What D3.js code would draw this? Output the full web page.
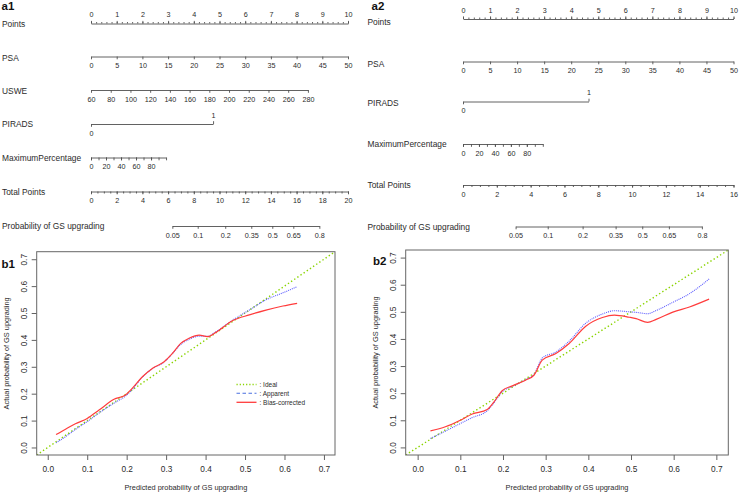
<!DOCTYPE html>
<html><head><meta charset="utf-8">
<script src="https://cdn.jsdelivr.net/npm/d3@7"></script>
<style>body{margin:0;background:#fff}svg{display:block}</style>
</head><body><svg id="c" width="739" height="495"></svg>
<script>
// ---------------- DATA ----------------
// Nomogram row names
const rowNames = ["Points","PSA","USWE","PIRADS","MaximumPercentage","Total Points","Probability of GS upgrading"];
const rowNamesA2 = ["Points","PSA","PIRADS","MaximumPercentage","Total Points","Probability of GS upgrading"];
// tick labels
const pointsLabels = [0,1,2,3,4,5,6,7,8,9,10];
const psaLabels = [0,5,10,15,20,25,30,35,40,45,50];
const usweLabels = [60,80,100,120,140,160,180,200,220,240,260,280];
const piradsLabels = [0,1];
const maxPctLabels = [0,20,40,60,80];
const maxPctTicks = [0,10,20,30,40,50,60,70,80,90,100];
const totalLabelsA1 = [0,2,4,6,8,10,12,14,16,18,20];
const totalLabelsA2 = [0,2,4,6,8,10,12,14,16];
const probLabels = [0.05,0.1,0.2,0.35,0.5,0.65,0.8];
// points reached at the top of each predictor's range
const a1VarPoints = [10, 8.44, 4.75, 2.92];   // PSA, USWE, PIRADS, MaximumPercentage
const a2VarPoints = [10, 4.64, 2.95];         // PSA, PIRADS, MaximumPercentage
// total points that correspond to probability 0.05 and 0.8
const a1ProbPts = [6.33, 17.77];
const a2ProbPts = [3.11, 14.13];

// Calibration curves
const b1Pred = [0.021,0.045,0.07,0.1,0.13,0.168,0.197,0.214,0.24,0.265,0.295,0.316,0.337,0.358,0.384,0.405,0.426,0.469,0.511,0.553,0.596,0.632];
const b1Apparent = [0.017,0.04,0.067,0.096,0.128,0.165,0.191,0.215,0.262,0.293,0.318,0.349,0.383,0.402,0.414,0.413,0.43,0.474,0.511,0.549,0.575,0.598];
const b1Bias = [0.048,0.068,0.088,0.108,0.139,0.179,0.195,0.22,0.263,0.294,0.319,0.35,0.387,0.406,0.418,0.412,0.428,0.472,0.493,0.511,0.526,0.536];
const b2Pred = [0.03,0.065,0.1,0.128,0.163,0.179,0.198,0.222,0.253,0.273,0.292,0.324,0.355,0.394,0.433,0.461,0.496,0.512,0.539,0.559,0.598,0.637,0.683];
const b2Apparent = [0.033,0.06,0.088,0.11,0.135,0.165,0.205,0.225,0.25,0.27,0.33,0.352,0.392,0.458,0.492,0.504,0.5,0.498,0.493,0.505,0.535,0.567,0.621];
const b2Bias = [0.061,0.076,0.1,0.123,0.14,0.168,0.209,0.227,0.248,0.267,0.322,0.346,0.383,0.447,0.479,0.488,0.48,0.475,0.461,0.472,0.499,0.518,0.547];
const calTicks = [0,0.1,0.2,0.3,0.4,0.5,0.6,0.7];
const legendLabels = [": Ideal", ": Apparent", ": Bias-corrected"];

// ---------------- DRAWING ----------------
const FONT = '"Liberation Sans", Arial, Helvetica, sans-serif';
const INK = '#2b2b2b', AX = '#505050';
const svg = d3.select('#c');
const logit = p => Math.log(p/(1-p));

function styleAxis(g, fs){
  g.attr('font-family', FONT).attr('font-size', fs);
  g.selectAll('.domain, .tick line').attr('stroke', AX).attr('stroke-width', 0.9);
  g.selectAll('text').attr('fill', INK);
}
function row(y, scale, values, opt){
  const o = Object.assign({up:false, minor:null, fmt:d=>d, size:2.8, minorSize:1.5, pad:4, domain:true}, opt||{});
  const mk = o.up ? d3.axisTop : d3.axisBottom;
  if (o.minor){
    const gm = svg.append('g').attr('transform',`translate(0,${y})`)
      .call(mk(scale).tickValues(o.minor).tickSize(o.minorSize).tickSizeOuter(0).tickFormat(''));
    styleAxis(gm, 7.2); gm.select('.domain').remove();
  }
  const ga = svg.append('g').attr('transform',`translate(0,${y})`)
    .call(mk(scale).tickValues(values).tickSize(o.size).tickSizeOuter(0).tickPadding(o.pad).tickFormat(o.fmt));
  styleAxis(ga, 7.2);
  if(!o.domain) ga.select('.domain').remove();
}
function label(x, y, t, fs){
  svg.append('text').attr('x',x).attr('y',y).attr('font-family',FONT).attr('font-size',fs||8.4)
    .attr('fill',INK).text(t);
}
function panelTag(x,y,t){
  svg.append('text').attr('x',x).attr('y',y).attr('font-family',FONT).attr('font-size',11.5)
    .attr('font-weight','bold').attr('fill','#111').text(t);
}

// ----- a1 nomogram -----
(function(){
  const pts = d3.scaleLinear().domain([0,10]).range([91,348]);
  const psa = d3.scaleLinear().domain([0,50]).range([pts(0), pts(a1VarPoints[0])]);
  const usw = d3.scaleLinear().domain([60,280]).range([pts(0), pts(a1VarPoints[1])]);
  const pir = d3.scaleLinear().domain([0,1]).range([pts(0), pts(a1VarPoints[2])]);
  const mx  = d3.scaleLinear().domain([0,100]).range([pts(0), pts(a1VarPoints[3])]);
  const tot = d3.scaleLinear().domain([0,20]).range([91,348]);
  const prb = d3.scaleLinear().domain([logit(probLabels[0]), logit(probLabels[probLabels.length-1])])
    .range([tot(a1ProbPts[0]), tot(a1ProbPts[1])]);
  const ys = [23.5, 56.5, 90, 124, 157.5, 191.5, 226];
  const ly = [26.5, 61, 94, 127.3, 160.5, 194.5, 228.8];
  rowNames.forEach((n,i)=>label(2, ly[i], n));
  row(ys[0], pts, pointsLabels, {up:true, minor:d3.range(0,10.001,0.2), pad:3.5, size:2.6});
  row(ys[1], psa, psaLabels);
  row(ys[2], usw, usweLabels);
  row(ys[3], pir, [piradsLabels[0]]);
  row(ys[3], pir, [piradsLabels[1]], {up:true, domain:false, pad:3.5});
  row(ys[4], mx, maxPctTicks.filter(v=>maxPctLabels.includes(v)), {minor:maxPctTicks, minorSize:2.8});
  row(ys[5], tot, totalLabelsA1, {minor:d3.range(0,20.001,0.5), minorSize:2});
  row(ys[6], prb, probLabels.map(logit), {fmt:(d,i)=>probLabels[i]});
  panelTag(1.5, 9.5, 'a1');
})();

// ----- a2 nomogram -----
(function(){
  const pts = d3.scaleLinear().domain([0,10]).range([463,733.5]);
  const psa = d3.scaleLinear().domain([0,50]).range([pts(0), pts(a2VarPoints[0])]);
  const pir = d3.scaleLinear().domain([0,1]).range([pts(0), pts(a2VarPoints[1])]);
  const mx  = d3.scaleLinear().domain([0,100]).range([pts(0), pts(a2VarPoints[2])]);
  const tot = d3.scaleLinear().domain([0,16]).range([463,733.5]);
  const prb = d3.scaleLinear().domain([logit(probLabels[0]), logit(probLabels[probLabels.length-1])])
    .range([tot(a2ProbPts[0]), tot(a2ProbPts[1])]);
  const ys = [19, 61.5, 101.5, 144, 185, 226.5];
  const ly = [25, 66.7, 106, 146.7, 188.3, 230];
  rowNamesA2.forEach((n,i)=>label(367.5, ly[i], n));
  row(ys[0], pts, pointsLabels, {up:true, minor:d3.range(0,10.001,0.2), pad:3.5, size:2.6});
  row(ys[1], psa, psaLabels);
  row(ys[2], pir, [piradsLabels[0]]);
  row(ys[2], pir, [piradsLabels[1]], {up:true, domain:false, pad:3.5});
  row(ys[3], mx, maxPctTicks.filter(v=>maxPctLabels.includes(v)), {minor:maxPctTicks, minorSize:2.8});
  row(ys[4], tot, totalLabelsA2, {minor:d3.range(0,16.001,0.5), minorSize:2});
  row(ys[5], prb, probLabels.map(logit), {fmt:(d,i)=>probLabels[i]});
  panelTag(371.5, 9.8, 'a2');
})();

// ----- calibration plots -----
function calib(box, pred, app, bias, yTitleX, tag, tagXY, withLegend){
  const x = d3.scaleLinear().domain([-0.028,0.728]).range([box.l, box.r]);
  const y = d3.scaleLinear().domain([-0.028,0.728]).range([box.b, box.t]);
  const id = 'clip'+tag;
  svg.append('clipPath').attr('id',id).append('rect')
    .attr('x',box.l).attr('y',box.t).attr('width',box.r-box.l).attr('height',box.b-box.t);
  const gx = svg.append('g').attr('transform',`translate(0,${box.b})`)
    .call(d3.axisBottom(x).tickValues(calTicks).tickFormat(d3.format('.1f')).tickSize(5).tickPadding(6).tickSizeOuter(0));
  styleAxis(gx, 8.3); gx.select('.domain').remove();
  const gy = svg.append('g').attr('transform',`translate(${box.l},0)`)
    .call(d3.axisLeft(y).tickValues(calTicks).tickFormat(d3.format('.1f')).tickSize(5).tickSizeOuter(0));
  styleAxis(gy, 8.3); gy.select('.domain').remove();
  gy.selectAll('text').attr('x',null).attr('dy',null).attr('text-anchor','middle')
    .attr('transform','translate(-10,0) rotate(-90)');
  const plot = svg.append('g').attr('clip-path',`url(#${id})`);
  // ideal
  plot.append('line').attr('x1',x(x.domain()[0])).attr('y1',y(y.domain()[0]))
    .attr('x2',x(x.domain()[1])).attr('y2',y(y.domain()[1]))
    .attr('stroke','#8ad400').attr('stroke-width',1.4).attr('stroke-dasharray','1.4,2.4');
  const line = d3.line().x(d=>x(d[0])).y(d=>y(d[1])).curve(d3.curveMonotoneX);
  plot.append('path').attr('d', line(pred.map((p,i)=>[p,app[i]])))
    .attr('fill','none').attr('stroke','#5b5bff').attr('stroke-width',1.1).attr('stroke-dasharray','1,1');
  plot.append('path').attr('d', line(pred.map((p,i)=>[p,bias[i]])))
    .attr('fill','none').attr('stroke','#ff3c3c').attr('stroke-width',1.2);
  svg.append('rect').attr('x',box.l).attr('y',box.t).attr('width',box.r-box.l).attr('height',box.b-box.t)
    .attr('fill','none').attr('stroke','#666').attr('stroke-width',1);
  svg.append('text').attr('x',(box.l+box.r)/2).attr('y',490).attr('text-anchor','middle')
    .attr('font-family',FONT).attr('font-size',7.4).attr('fill',INK).text('Predicted probability of GS upgrading');
  svg.append('text').attr('transform',`translate(${yTitleX},${(box.t+box.b)/2}) rotate(-90)`).attr('text-anchor','middle')
    .attr('font-family',FONT).attr('font-size',7.4).attr('fill',INK).text('Actual probability of GS upgrading');
  panelTag(tagXY[0], tagXY[1], tag);
  if(withLegend){
    const lx = 236.5, ly = [384.5, 393.3, 402.3];
    const styles = [['#8ad400','1.2,2',1.3],['#4a6fe0','3.5,2.5',1.1],['#ff3c3c',null,1.3]];
    legendLabels.forEach((t,i)=>{
      const l = svg.append('line').attr('x1',lx).attr('x2',lx+20).attr('y1',ly[i]).attr('y2',ly[i])
        .attr('stroke',styles[i][0]).attr('stroke-width',styles[i][2]);
      if(styles[i][1]) l.attr('stroke-dasharray',styles[i][1]);
      svg.append('text').attr('x',lx+23).attr('y',ly[i]+2.4).attr('font-family',FONT).attr('font-size',6.5)
        .attr('fill',INK).text(t);
    });
  }
}
calib({l:36.7,r:335,t:251.7,b:455}, b1Pred, b1Apparent, b1Bias, 8.5, 'b1', [1.5,268], true);
calib({l:405.7,r:728.3,t:250,b:455}, b2Pred, b2Apparent, b2Bias, 378, 'b2', [373,265], false);
</script></body></html>
